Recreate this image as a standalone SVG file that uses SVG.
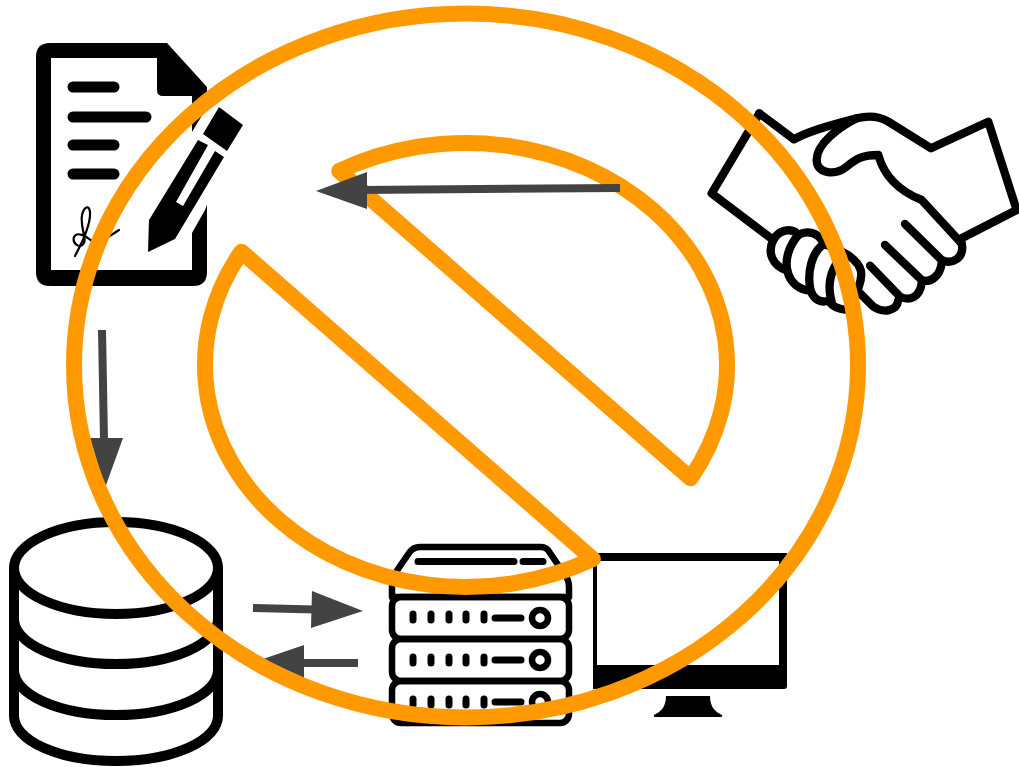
<svg xmlns="http://www.w3.org/2000/svg" width="1019" height="767" viewBox="0 0 1019 767">
<style>
.ln{fill:none;stroke:#000;stroke-linecap:round;stroke-linejoin:round}
.ar{stroke:#434343;stroke-width:8;fill:none}
.hd{fill:#434343}
.or{fill:none;stroke:#f90;stroke-width:16;stroke-linejoin:round}
</style>
<rect width="1019" height="767" fill="#fff"/>
<g id="document">
<path d="M50,43H167L207,87V272Q207,286 193,286H50Q36,286 36,272V57Q36,43 50,43Z" fill="#000"/>
<path d="M51,58H157V90Q157,96 163,96H192V270H51Z" fill="#fff"/>
<g class="ln" stroke-width="11"><path d="M73,87H114M73,117H146M73,145H114M73,174H114"/></g>
<path d="M75,256C82,243 91,225 90,212C89,204 84,207 82,215C80,228 87,238 84,243C80,250 72,243 74,237C77,231 86,236 92,241C100,243 110,236 119,230" class="ln" stroke-width="2.2"/>
<polygon points="220,96 253,122 231,161 220,170 205,210 188,240 190,245 146,262 140,255 140,218 192,132 204,112" fill="#fff"/>
<polygon points="219,107 243,125 227,151 203,134" fill="#000"/>
<polygon points="148,252 149,220 198,140 208,145 176,202 183,206 215,151 224,157 175,239" fill="#000"/>
</g>
<g id="handshake" transform="translate(700 100) scale(.3333)">
<g class="ln" stroke-width="25">
<path d="M178,40L282,118C340,85 420,70 470,55C510,45 540,50 565,65L693,145L865,65L950,330L785,415"/>
<path d="M178,40L35,280L220,420"/>
<path d="M470,55C420,80 350,130 350,180C350,225 410,225 440,200C470,175 490,165 535,165C550,220 590,270 665,300L785,430"/>
<path d="M785,430C795,475 755,495 725,480L615,372"/>
<path d="M725,490C720,530 690,550 665,540L555,435"/>
<path d="M665,550C660,590 630,605 600,590L510,497"/>
<path d="M595,600C590,635 550,640 520,620L480,580"/>
<path d="M220,420C200,460 220,500 262,512C270,550 300,570 332,572C342,600 362,610 387,602C395,620 420,630 445,630"/>
<path d="M220,420C235,390 275,380 295,405C320,390 355,395 372,432C410,445 470,470 482,510C488,530 480,550 475,565"/>
<path d="M295,405C265,440 255,480 262,512"/>
<path d="M372,432C335,455 320,520 332,572"/>
<path d="M410,490C385,530 385,570 395,605"/>
</g>
</g>
<g id="database" class="ln" stroke-width="10">
<ellipse cx="116" cy="568" rx="102" ry="46"/>
<path d="M14,568V716A102,45 0 0 0 218,716V568"/>
<path d="M14,619A102,45 0 0 0 218,619"/>
<path d="M14,670A102,45 0 0 0 218,670"/>
</g>
<g id="server">
<g class="ln" stroke-width="6.5">
<path d="M392,597V585Q392,578 396,572L409,553Q413,547 420,547H541Q547,547 550,553L565,575Q569,580 569,587V597Z"/>
<rect x="392" y="597" width="177" height="42" rx="9"/>
<rect x="392" y="639" width="177" height="42" rx="9"/>
<rect x="392" y="681" width="177" height="42" rx="9"/>
<path d="M418,561.5H514M523,561.5H543" stroke-width="7"/>
<path d="M413,614V620M431,614V620M449,614V620M466,614V620M484,614V620M495,618H521" stroke-width="7"/>
<path d="M413,657V663M431,657V663M449,657V663M466,657V663M484,657V663M495,660H521" stroke-width="7"/>
<path d="M413,699V705M431,699V705M449,699V705M466,699V705M484,699V705M495,702H521" stroke-width="7"/>
<circle cx="540" cy="618" r="8"/>
<circle cx="540" cy="660" r="8"/>
<circle cx="540" cy="702" r="8"/>
</g>
</g>
<g id="monitor">
<path d="M593,553H787V686Q787,689 784,689H593Z" fill="#000"/>
<rect x="597" y="561" width="182" height="104" fill="#fff"/>
<path d="M666,696H710C710,708 716,712 722,715Q723,717 720,717H656Q653,717 654,715C660,712 666,708 666,696Z" fill="#000"/>
</g>
<g id="connectors">
<path class="ar" d="M102,330L104,440"/>
<polygon class="hd" points="105,488 90,438 123,438"/>
<path class="ar" d="M253,608L315,609.500"/>
<polygon class="hd" points="363,611 312,591 311,628"/>
<path class="ar" d="M358,663H300"/>
<polygon class="hd" points="263,659 304,645 304,678"/>
</g>
<g id="prohibited">
<ellipse class="or" cx="466" cy="365.500" rx="392" ry="352"/>
<path class="or" d="M339.200,171A261,222 0 0 1 690.500,478.300Z"/>
<path class="or" d="M241.500,251.700A261,222 0 0 0 592.800,559Z"/>
</g>
<g id="connector-top">
<path class="ar" d="M620,188L360,190"/>
<polygon class="hd" points="316,191 367,172 367,209"/>
</g>
</svg>
